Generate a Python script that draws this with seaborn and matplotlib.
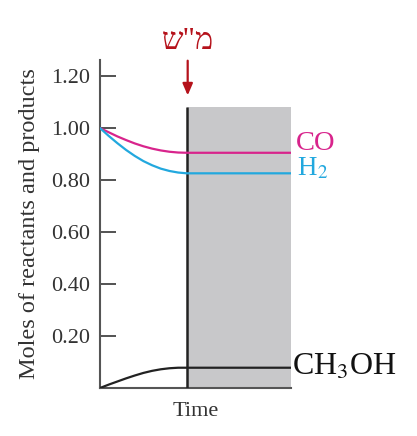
import matplotlib
matplotlib.use("Agg")
import matplotlib.pyplot as plt
import seaborn as sns

# values
time = [0, 0.1, 0.2, 0.3, 0.4, 0.5, 0.6, 0.7, 0.8, 0.9, 1.0, 2.2]
co = [1.0, 0.984, 0.968, 0.954, 0.941, 0.930, 0.921, 0.914, 0.909, 0.906, 0.905, 0.905]
h2 = [1.0, 0.970, 0.942, 0.916, 0.893, 0.873, 0.857, 0.844, 0.835, 0.829, 0.826, 0.826]
ch3oh = [0.0, 0.013, 0.025, 0.037, 0.048, 0.058, 0.066, 0.072, 0.076, 0.078, 0.078, 0.078]
y_ticks = [0.20, 0.40, 0.60, 0.80, 1.00, 1.20]
t_eq = 1.0
box_top = 1.08

sns.set_style("ticks")
plt.rcParams["font.family"] = ["Liberation Serif", "DejaVu Sans"]
plt.rcParams["mathtext.fontset"] = "stix"

fig = plt.figure(figsize=(4.17, 4.36), dpi=100)
ax = fig.add_axes([100 / 417, 1 - 388 / 436, 191 / 417, 328 / 436])

ax.fill_between([t_eq, 2.2], 0, box_top, color="#c8c8ca", lw=0, zorder=0)
ax.vlines(t_eq, 0, box_top, color="#222222", lw=1.8, zorder=3)

sns.lineplot(x=time, y=co, color="#d8248c", lw=1.6, ax=ax, zorder=4)
sns.lineplot(x=time, y=h2, color="#22a8de", lw=1.6, ax=ax, zorder=4)
sns.lineplot(x=time, y=ch3oh, color="#222222", lw=1.6, ax=ax, zorder=4)

ax.set_xlim(0, 2.2)
ax.set_ylim(0, 1.262)
ax.set_xticks([])
ax.set_yticks(y_ticks)
ax.set_yticklabels([f"{v:.2f}" for v in y_ticks], fontsize=16, color="#333333")
ax.tick_params(axis="y", direction="in", length=11.5, width=1.3, color="#444444", pad=7)

for side in ["top", "right"]:
    ax.spines[side].set_visible(False)
for side in ["left", "bottom"]:
    ax.spines[side].set_color("#555555")
    ax.spines[side].set_linewidth(1.5)

ax.set_ylabel("Moles of reactants and products", fontsize=17.5, color="#333333", labelpad=8)
ax.set_xlabel("Time", fontsize=16, color="#333333", labelpad=10)

ax.text(2.26, 0.915, "CO", color="#d8248c", fontsize=20.5, va="baseline", ha="left", clip_on=False)
ax.text(2.27, 0.817, r"H$_2$", color="#22a8de", fontsize=19.5, va="baseline", ha="left", clip_on=False)
ax.text(2.21, 0.05, r"CH$_3$OH", color="#111111", fontsize=23, va="baseline", ha="left", clip_on=False)

ax.annotate("", xy=(1.01, 1.115), xytext=(1.01, 1.27), xycoords="data",
            arrowprops=dict(arrowstyle="-|>,head_length=0.7,head_width=0.3", color="#b5121b", lw=1.6),
            annotation_clip=False)
ax.text(1.01, 1.335, "ש\"מ", color="#b5121b", fontsize=22, ha="center", va="center",
        family=["Liberation Serif", "DejaVu Sans"], clip_on=False)

fig.savefig("out.png", dpi=100)
